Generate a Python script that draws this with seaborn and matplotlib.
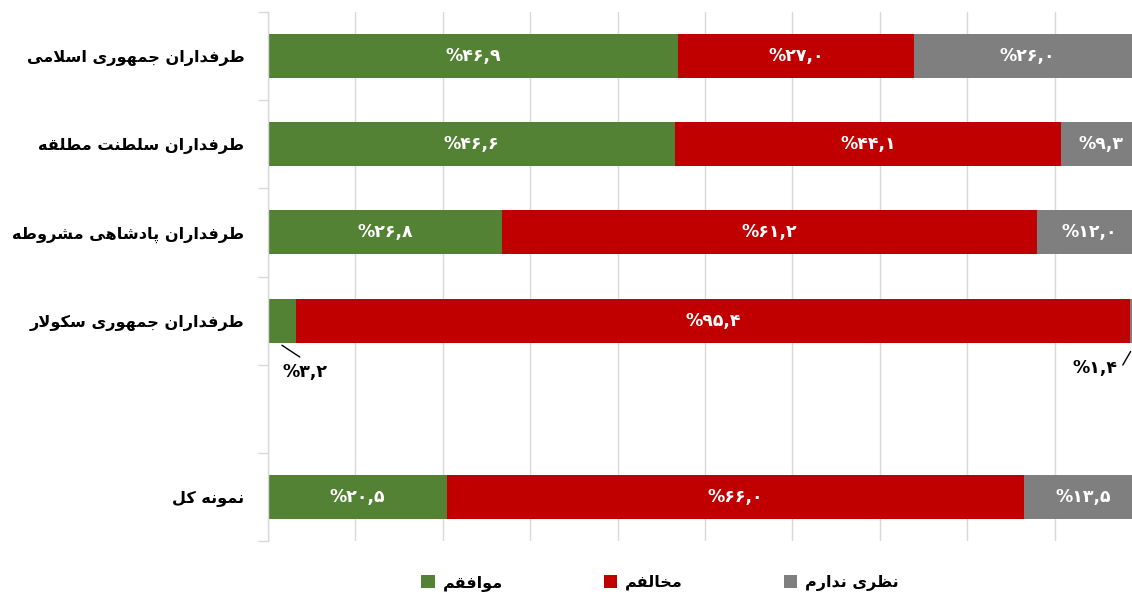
import numpy as np
import pandas as pd
import matplotlib
matplotlib.use("Agg")
import matplotlib.pyplot as plt
import seaborn as sns
from matplotlib.patches import Patch
from matplotlib.ticker import FixedLocator, MultipleLocator

# ---------------- data ----------------
groups = ["طرفداران جمهوری اسلامی", "طرفداران سلطنت مطلقه",
          "طرفداران پادشاهی مشروطه", "طرفداران جمهوری سکولار",
          " ", "نمونه کل"]
agree = [46.9, 46.6, 26.8, 3.2, np.nan, 20.5]
oppose = [27.0, 44.1, 61.2, 95.4, np.nan, 66.0]
no_opinion = [26.0, 9.3, 12.0, 1.4, np.nan, 13.5]
series_names = ["موافقم", "مخالفم", "نظری ندارم"]
colors = ["#548235", "#C00000", "#7F7F7F"]

# ---------------- minimal Persian shaping (matplotlib has no CTL) ----------------
FORMS = {
    '\u0627': ('\uFE8D', '\uFE8E'),
    '\u062F': ('\uFEA9', '\uFEAA'),
    '\u0631': ('\uFEAD', '\uFEAE'),
    '\u0632': ('\uFEAF', '\uFEB0'),
    '\u0648': ('\uFEED', '\uFEEE'),
    '\u0628': ('\uFE8F', '\uFE90', '\uFE91', '\uFE92'),
    '\u062A': ('\uFE95', '\uFE96', '\uFE97', '\uFE98'),
    '\u062C': ('\uFE9D', '\uFE9E', '\uFE9F', '\uFEA0'),
    '\u062E': ('\uFEA5', '\uFEA6', '\uFEA7', '\uFEA8'),
    '\u0633': ('\uFEB1', '\uFEB2', '\uFEB3', '\uFEB4'),
    '\u0634': ('\uFEB5', '\uFEB6', '\uFEB7', '\uFEB8'),
    '\u0637': ('\uFEC1', '\uFEC2', '\uFEC3', '\uFEC4'),
    '\u0638': ('\uFEC5', '\uFEC6', '\uFEC7', '\uFEC8'),
    '\u0641': ('\uFED1', '\uFED2', '\uFED3', '\uFED4'),
    '\u0642': ('\uFED5', '\uFED6', '\uFED7', '\uFED8'),
    '\u0644': ('\uFEDD', '\uFEDE', '\uFEDF', '\uFEE0'),
    '\u0645': ('\uFEE1', '\uFEE2', '\uFEE3', '\uFEE4'),
    '\u0646': ('\uFEE5', '\uFEE6', '\uFEE7', '\uFEE8'),
    '\u0647': ('\uFEE9', '\uFEEA', '\uFEEB', '\uFEEC'),
    '\u06CC': ('\uFBFC', '\uFBFD', '\uFBFE', '\uFBFF'),
    '\u067E': ('\uFB56', '\uFB57', '\uFB58', '\uFB59'),
    '\u06A9': ('\uFB8E', '\uFB8F', '\uFB90', '\uFB91'),
}


def _dual(c):
    return c in FORMS and len(FORMS[c]) == 4


def shape(text):
    out = []
    chars = list(text)
    n = len(chars)
    i = 0
    while i < n:
        c = chars[i]
        if c not in FORMS:
            out.append(c)
            i += 1
            continue
        prev = chars[i - 1] if i > 0 else None
        joins_prev = prev is not None and _dual(prev)
        if c == '\u0644' and i + 1 < n and chars[i + 1] == '\u0627':
            out.append('\uFEFC' if joins_prev else '\uFEFB')
            i += 2
            continue
        nxt = chars[i + 1] if i + 1 < n else None
        joins_next = _dual(c) and nxt is not None and nxt in FORMS
        f = FORMS[c]
        if joins_prev and joins_next:
            g = f[3]
        elif joins_prev:
            g = f[1]
        elif joins_next:
            g = f[2]
        else:
            g = f[0]
        out.append(g)
        i += 1
    return ''.join(reversed(out))


FA_DIGITS = str.maketrans("0123456789", "۰۱۲۳۴۵۶۷۸۹")


def pct(v):
    return "%" + f"{v:.1f}".replace(".", ",").translate(FA_DIGITS)


# ---------------- figure ----------------
sns.set_theme(style="white")
plt.rcParams['font.family'] = ['DejaVu Sans']
plt.rcParams['font.weight'] = 'bold'
plt.rcParams['text.color'] = 'black'

W, H = 1132, 598
fig = plt.figure(figsize=(W / 100, H / 100), dpi=100)
ax = fig.add_axes([268 / W, 1 - 541 / H, 874 / W, 529 / H])

labels = [shape(g) for g in groups]
df = pd.DataFrame({"group": labels, "agree": agree, "oppose": oppose, "none": no_opinion})
df["c1"] = df["agree"]
df["c2"] = df["agree"] + df["oppose"]
df["c3"] = df["agree"] + df["oppose"] + df["none"]

for col, colr in zip(["c3", "c2", "c1"], colors[::-1]):
    sub = df.dropna(subset=[col])
    sns.barplot(data=sub, x=col, y="group", order=labels, orient="h",
                color=colr, width=0.5, errorbar=None, ax=ax,
                saturation=1, linewidth=0)

ax.set_xlim(0, 100)
ax.set_ylim(5.5, -0.5)
ax.set_xlabel("")
ax.set_ylabel("")
ax.xaxis.set_major_locator(MultipleLocator(10))
ax.grid(axis="x", color="#D9D9D9", linewidth=1)
ax.set_axisbelow(True)
ax.tick_params(axis="x", length=0, labelbottom=False)
for s in ["top", "right", "bottom"]:
    ax.spines[s].set_visible(False)
ax.spines["left"].set_color("#D9D9D9")
ax.spines["left"].set_linewidth(1)
ax.yaxis.set_minor_locator(FixedLocator(np.arange(-0.5, 6.0, 1.0)))
ax.tick_params(axis="y", which="major", length=0, pad=17, labelsize=11.6,
               labelcolor="black")
ax.tick_params(axis="y", which="minor", length=7, color="#D9D9D9", width=1,
               left=True)
for t in ax.get_yticklabels():
    t.set_fontweight("bold")

# ---------------- value labels ----------------
for i in range(len(groups)):
    vals = [agree[i], oppose[i], no_opinion[i]]
    if np.isnan(vals[0]):
        continue
    start = 0.0
    for j, v in enumerate(vals):
        mid = start + v / 2
        if v >= 5:
            ax.text(mid, i, pct(v), ha="center", va="center", color="white",
                    fontsize=12.5, fontweight="bold")
        elif j == 0:
            ax.annotate(pct(v), xy=(start + v * 0.5, i + 0.28), xycoords="data",
                        xytext=(16.5, -19.5), textcoords="offset points",
                        ha="center", va="center", fontsize=12.5, fontweight="bold",
                        color="black",
                        arrowprops=dict(arrowstyle="-", color="black", lw=1,
                                        shrinkA=4, shrinkB=0, relpos=(0.6, 1.0)))
        else:
            ax.annotate(pct(v), xy=(start + 0.1, i + 0.35), xycoords="data",
                        xytext=(-26, -12), textcoords="offset points",
                        ha="center", va="center", fontsize=12.5, fontweight="bold",
                        color="black",
                        arrowprops=dict(arrowstyle="-", color="black", lw=1,
                                        shrinkA=2, shrinkB=0, relpos=(1.0, 0.6),
                                        connectionstyle="angle,angleA=0,angleB=60,rad=0"))
        start += v

# ---------------- legend ----------------
handles = [Patch(facecolor=c, edgecolor="none") for c in colors]
leg = fig.legend(handles, [shape(s) for s in series_names], loc="center",
                 bbox_to_anchor=(660 / W, 1 - 583 / H), ncol=3, frameon=False,
                 handlelength=0.85, handleheight=0.85, handletextpad=0.5,
                 columnspacing=6.3, prop={"size": 11.5, "weight": "bold"})
for t in leg.get_texts():
    t.set_color("black")

fig.savefig("out.png", dpi=100)
